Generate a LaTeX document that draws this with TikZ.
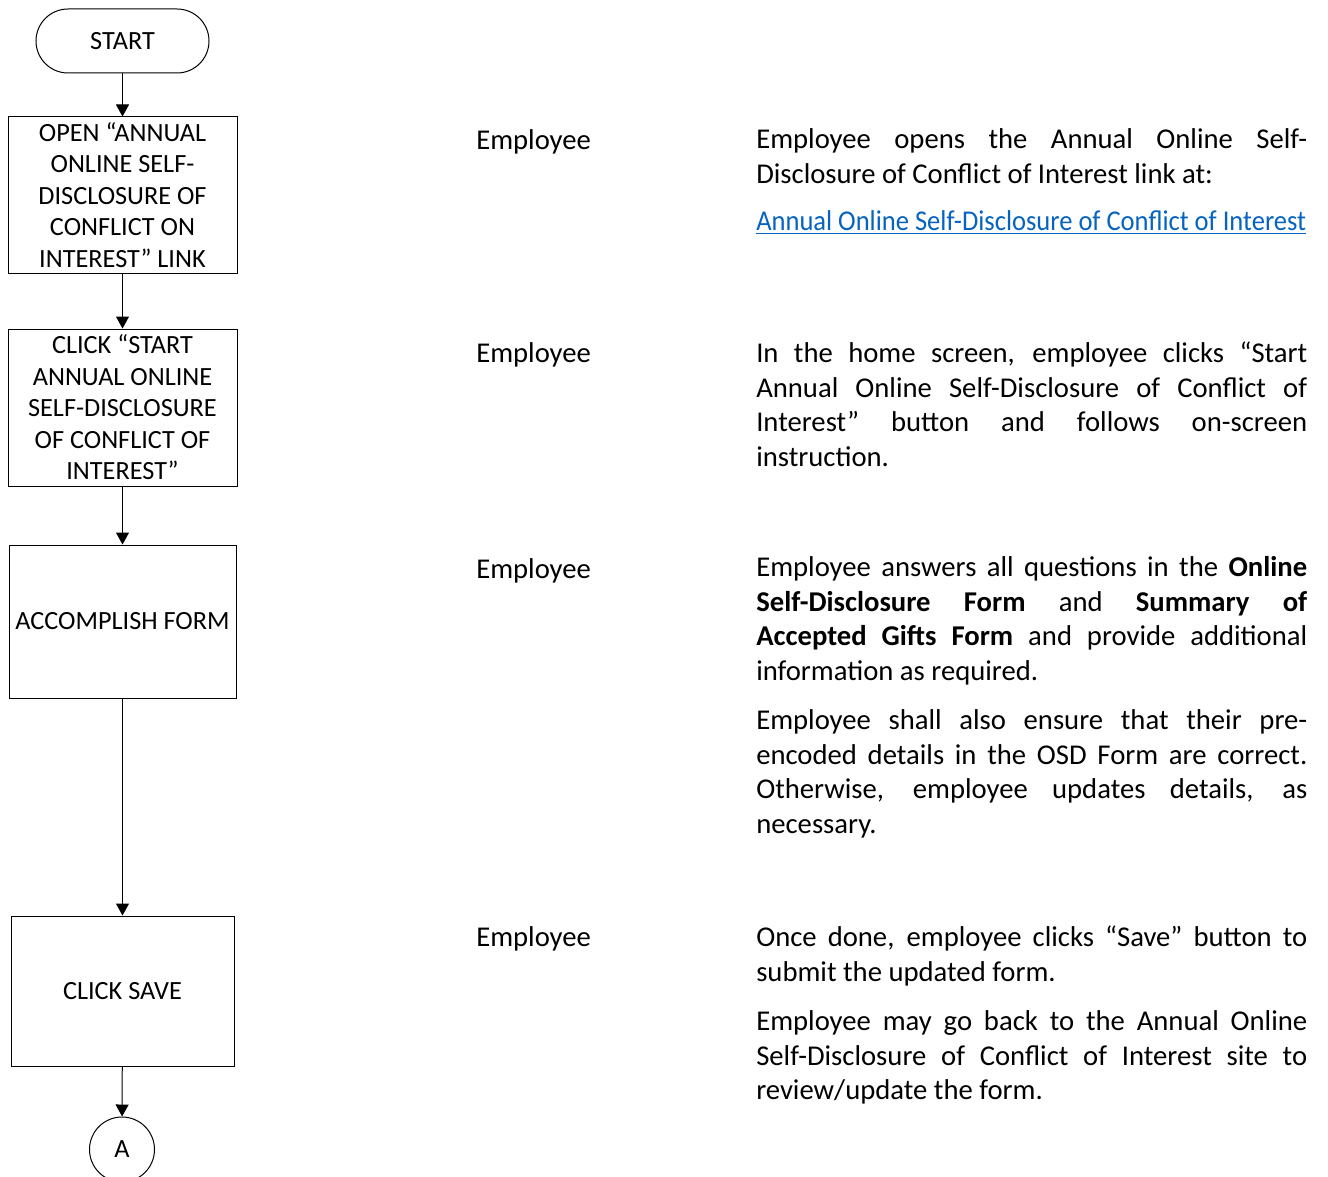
\documentclass[tikz,border=0pt]{standalone}
\usepackage{fontspec}
\setmainfont{Carlito}
\usetikzlibrary{arrows.meta}
\definecolor{linkblue}{RGB}{5,99,193}
\hyphenpenalty=10000
\exhyphenpenalty=10000
\tolerance=9999
\begin{document}
\begin{tikzpicture}[x=0.75pt,y=-0.75pt,
  box/.style={draw=black,line width=0.75pt,align=center,inner sep=0pt,font=\fontsize{19.7}{23.6}\selectfont},
  flow/.style={draw=black,line width=0.75pt,-{Triangle[width=9.75pt,length=9pt]}},
  actor/.style={anchor=base west,inner sep=0pt,font=\fontsize{21.5}{25.9}\selectfont},
  desc/.style={anchor=base west,inner sep=0pt,text width=413.25pt,align=justify,font=\fontsize{21.5}{25.9}\selectfont}]
\useasboundingbox (0,0) rectangle (1328,1177);

% flowchart
\node[box,rounded corners=24pt,minimum width=129.75pt,minimum height=48pt] (start) at (122.5,41) {START};
\node[box,minimum width=171.75pt,minimum height=117pt] (open) at (122.5,195) {OPEN “ANNUAL\\ONLINE SELF-\\DISCLOSURE OF\\CONFLICT ON\\INTEREST” LINK};
\node[box,minimum width=171.75pt,minimum height=117.75pt] (click) at (122.5,407.5) {CLICK “START\\ANNUAL ONLINE\\SELF-DISCLOSURE\\OF CONFLICT OF\\INTEREST”};
\node[box,minimum width=170.25pt,minimum height=114.75pt] (form) at (122.5,621.5) {ACCOMPLISH FORM};
\node[box,minimum width=167.25pt,minimum height=112.5pt] (save) at (122.5,991) {CLICK SAVE};
\node[box,circle,minimum size=48.75pt] (A) at (122,1149.5) {A};

\draw[flow] (start) -- (open);
\draw[flow] (open) -- (click);
\draw[flow] (click) -- (form);
\draw[flow] (form) -- (save);
\draw[flow] (save) -- (A);

% actors
\node[actor] (e1) at (476,149.5) {Employee};
\node[actor] (e2) at (476,362.5) {Employee};
\node[actor] (e3) at (476,578.5) {Employee};
\node[actor] (e4) at (476,946.5) {Employee};

% descriptions
\node[desc] (d1) at (756,149) {Employee opens the Annual Online Self-\linebreak Disclosure of Conflict of Interest link at:};
\node[desc,text=linkblue] (d1b) at (756,231) {\resizebox{412.5pt}{\height}{\underline{Annual Online Self-Disclosure of Conflict of Interest}}};
\node[desc] (d2) at (756,362.5) {In the home screen, employee clicks “Start\linebreak Annual Online Self-Disclosure of Conflict of\linebreak Interest” button and follows on-screen\linebreak instruction.};
\node[desc] (d3) at (756,576.5) {Employee answers all questions in the \textbf{Online}\linebreak \textbf{Self-Disclosure Form} and \textbf{Summary of}\linebreak \textbf{Accepted Gifts Form} and provide additional\linebreak information as required.};
\node[desc] (d3b) at (756,729.5) {Employee shall also ensure that their pre-\linebreak encoded details in the OSD Form are correct.\linebreak Otherwise, employee updates details, as\linebreak necessary.};
\node[desc] (d4) at (756,946.5) {Once done, employee clicks “Save” button to\linebreak submit the updated form.};
\node[desc] (d4b) at (756,1030.5) {Employee may go back to the Annual Online\linebreak Self-Disclosure of Conflict of Interest site to\linebreak review/update the form.};
\end{tikzpicture}
\end{document}
